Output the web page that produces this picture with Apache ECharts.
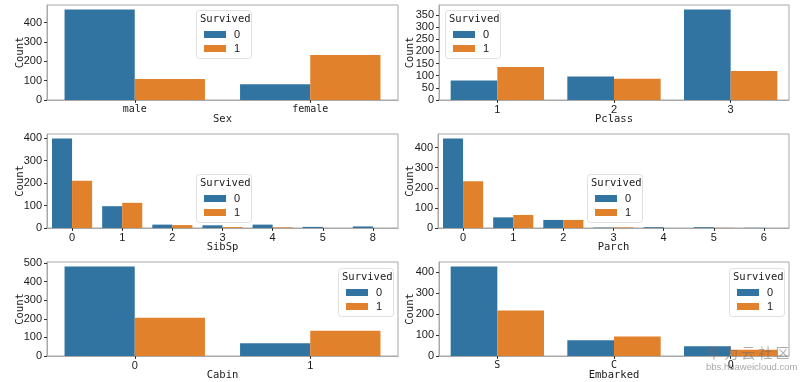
<!DOCTYPE html>
<html><head><meta charset="utf-8">
<script src="https://cdn.jsdelivr.net/npm/echarts@6/dist/echarts.min.js"></script>
<style>html,body{margin:0;padding:0;background:#fff}#c{width:805px;height:382px}</style>
</head><body><div id="c"></div>
<script>
var sexCats = ['male', 'female'];
var sex0 = [468, 81];
var sex1 = [109, 233];
var pclassCats = ['1', '2', '3'];
var pclass0 = [80, 97, 372];
var pclass1 = [136, 87, 119];
var sibspCats = ['0', '1', '2', '3', '4', '5', '8'];
var sibsp0 = [398, 97, 15, 12, 15, 5, 7];
var sibsp1 = [210, 112, 13, 4, 3, 0, 0];
var parchCats = ['0', '1', '2', '3', '4', '5', '6'];
var parch0 = [445, 53, 40, 2, 4, 4, 1];
var parch1 = [233, 65, 40, 3, 0, 1, 0];
var cabinCats = ['0', '1'];
var cabin0 = [481, 68];
var cabin1 = [206, 136];
var embCats = ['S', 'C', 'Q'];
var emb0 = [427, 75, 47];
var emb1 = [217, 93, 30];
var xNames = ['Sex', 'Pclass', 'SibSp', 'Parch', 'Cabin', 'Embarked'];
var yIntervals = [100, 50, 100, 100, 100, 100];
var hueNames = ['0', '1'];
var legendTitle = 'Survived';

var panels = [
  {cats: sexCats, a: sex0, b: sex1},
  {cats: pclassCats, a: pclass0, b: pclass1},
  {cats: sibspCats, a: sibsp0, b: sibsp1},
  {cats: parchCats, a: parch0, b: parch1},
  {cats: cabinCats, a: cabin0, b: cabin1},
  {cats: embCats, a: emb0, b: emb1}
];
var grids = [
  {left: 47, top: 5, width: 351, height: 95},
  {left: 439, top: 5, width: 350, height: 95},
  {left: 47, top: 134, width: 351, height: 94},
  {left: 438, top: 134, width: 351, height: 94},
  {left: 47, top: 262, width: 351, height: 95},
  {left: 439, top: 262, width: 350, height: 95}
];
var legendPos = [[196, 10], [445, 10], [196, 174], [587, 174], [338, 268], [729, 268]];
var yNameGap = [21, 23, 21, 22, 21, 23];

var C0 = '#3274a1', C1 = '#e1812c';
var mono = '"DejaVu Sans Mono", monospace';
var sans = '"Liberation Sans", Arial, sans-serif';
var spine = '#a8a8a8';

var option = {
  animation: false,
  backgroundColor: '#fff',
  grid: [], xAxis: [], yAxis: [], series: [], legend: [], graphic: []
};

panels.forEach(function (p, i) {
  var g = grids[i];
  option.grid.push({left: g.left, top: g.top, width: g.width, height: g.height,
    show: true, borderColor: spine, borderWidth: 1, backgroundColor: 'transparent', containLabel: false});
  option.xAxis.push({
    type: 'category', gridIndex: i, data: p.cats, boundaryGap: true,
    name: xNames[i], nameLocation: 'middle', nameGap: 14, nameMoveOverlap: false,
    nameTextStyle: {fontFamily: mono, fontSize: 10.5, color: '#1a1a1a'},
    axisLine: {show: true, lineStyle: {color: spine}},
    axisTick: {show: true, alignWithLabel: true, length: 3, lineStyle: {color: '#333'}},
    axisLabel: {fontFamily: i === 0 || i === 5 ? mono : sans, fontSize: i === 0 || i === 5 ? 10 : 11, color: '#1a1a1a', margin: 4}
  });
  var mx = Math.max.apply(null, p.a.concat(p.b)) * 1.05;
  option.yAxis.push({
    type: 'value', gridIndex: i, min: 0, max: mx, interval: yIntervals[i],
    name: 'Count', nameLocation: 'middle', nameGap: yNameGap[i], nameRotate: 90, nameMoveOverlap: false,
    nameTextStyle: {fontFamily: mono, fontSize: 10.5, color: '#1a1a1a'},
    splitLine: {show: false},
    axisLine: {show: true, lineStyle: {color: spine}},
    axisTick: {show: true, length: 3, lineStyle: {color: '#333'}},
    axisLabel: {fontFamily: sans, fontSize: 11, color: '#1a1a1a', margin: 5, showMaxLabel: false}
  });
  option.series.push({
    type: 'bar', name: hueNames[0], xAxisIndex: i, yAxisIndex: i, data: p.a,
    itemStyle: {color: C0}, barGap: '0%', barCategoryGap: '20%'
  });
  option.series.push({
    type: 'bar', name: hueNames[1], xAxisIndex: i, yAxisIndex: i, data: p.b,
    itemStyle: {color: C1}, barGap: '0%', barCategoryGap: '20%'
  });
  var lp = legendPos[i];
  option.graphic.push({
    type: 'rect', left: lp[0], top: lp[1], z: 50,
    shape: {width: 55, height: 48, r: 3},
    style: {fill: 'rgba(255,255,255,0.8)', stroke: '#e0e0e0', lineWidth: 1}
  });
  option.graphic.push({
    type: 'text', left: lp[0] + 4, top: lp[1] + 4, z: 51,
    style: {text: legendTitle, font: '10.5px ' + mono, fill: '#1a1a1a'}
  });
  option.legend.push({
    data: hueNames, orient: 'vertical', left: lp[0] + 8, top: lp[1] + 18, z: 52,
    padding: 0, itemWidth: 22, itemHeight: 7, itemGap: 1, icon: 'rect',
    selectedMode: false,
    textStyle: {fontFamily: sans, fontSize: 11, color: '#1a1a1a', lineHeight: 13, padding: [0, 0, 0, 3]}
  });
});

option.graphic.push({
  type: 'text', left: 707, top: 346, z: 100,
  style: {text: '华 为 云 社 区', font: '14px "Noto Sans CJK SC"', fill: 'rgba(110,110,110,0.55)'}
});
option.graphic.push({
  type: 'text', left: 706, top: 362, z: 100,
  style: {text: 'bbs.huaweicloud.com', font: '9.5px ' + sans, fill: 'rgba(130,130,130,0.7)'}
});

var chart = echarts.init(document.getElementById('c'), null, {renderer: 'canvas'});
chart.setOption(option);
</script>
</body></html>
